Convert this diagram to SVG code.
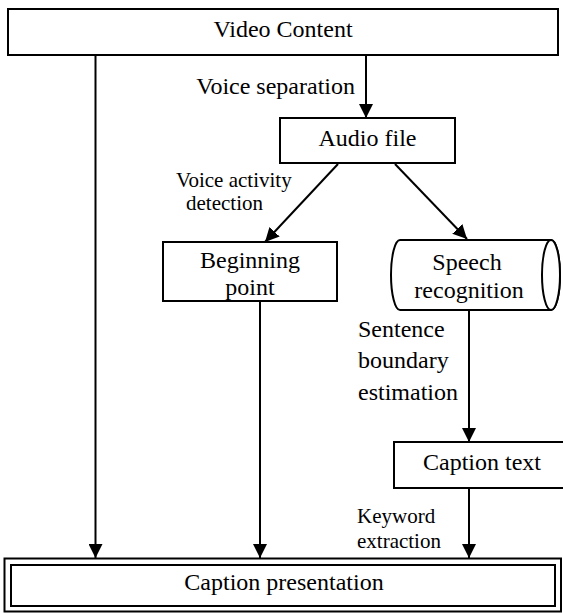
<svg xmlns="http://www.w3.org/2000/svg" width="563" height="613" viewBox="0 0 563 613">
  <style>
    .box { fill: #ffffff; stroke: #000000; stroke-width: 2; }
    .edge { stroke: #000000; stroke-width: 2; fill: none; }
    text { font-family: 'Liberation Serif', 'DejaVu Serif', serif; fill: #000000; }
    .t { font-size: 24px; }
    .s { font-size: 21px; }
    .c { text-anchor: middle; }
  </style>
  <defs>
    <marker id="arrow" viewBox="0 0 14 14" markerWidth="14" markerHeight="14" refX="14" refY="7" orient="auto" markerUnits="userSpaceOnUse">
      <path d="M0,0 L14,7 L0,14 z" fill="#000000"/>
    </marker>
  </defs>
  <rect width="563" height="613" fill="#ffffff"/>

  <!-- connectors -->
  <g id="connectors">
    <line class="edge" x1="95.5" y1="55" x2="95.5" y2="558" marker-end="url(#arrow)"/>
    <line class="edge" x1="366" y1="55" x2="366" y2="118" marker-end="url(#arrow)"/>
    <line class="edge" x1="338" y1="164" x2="265" y2="242" marker-end="url(#arrow)"/>
    <line class="edge" x1="395" y1="164" x2="467" y2="239" marker-end="url(#arrow)"/>
    <line class="edge" x1="260" y1="301" x2="260" y2="558" marker-end="url(#arrow)"/>
    <line class="edge" x1="469" y1="310" x2="469" y2="442" marker-end="url(#arrow)"/>
    <line class="edge" x1="469" y1="488" x2="469" y2="558" marker-end="url(#arrow)"/>
    <text class="t" x="355" y="94" text-anchor="end" font-family="Liberation Serif, serif">Voice separation</text>
    <text class="s" x="176" y="187" font-family="Liberation Serif, serif">Voice activity</text>
    <text class="s" x="186" y="210" font-family="Liberation Serif, serif">detection</text>
    <text class="t" x="358" y="337" font-family="Liberation Serif, serif">Sentence</text>
    <text class="t" x="358" y="368" font-family="Liberation Serif, serif">boundary</text>
    <text class="t" x="358" y="400" font-family="Liberation Serif, serif">estimation</text>
    <text class="s" x="357" y="523" font-family="Liberation Serif, serif">Keyword</text>
    <text class="s" x="357" y="548" font-family="Liberation Serif, serif">extraction</text>
  </g>

  <g id="video-content">
    <rect class="box" x="8" y="9" width="550" height="46"/>
    <text class="t c" x="283" y="37" font-family="Liberation Serif, serif">Video Content</text>
  </g>

  <g id="audio-file">
    <rect class="box" x="280" y="118" width="175" height="45"/>
    <text class="t c" x="367.5" y="146" font-family="Liberation Serif, serif">Audio file</text>
  </g>

  <g id="beginning-point">
    <rect class="box" x="163" y="242" width="174" height="59"/>
    <text class="t c" x="250" y="268" font-family="Liberation Serif, serif">Beginning</text>
    <text class="t c" x="250" y="295" font-family="Liberation Serif, serif">point</text>
  </g>

  <g id="speech-recognition">
    <path class="box" d="M400,240 L551,240 A9,35 0 0 1 551,310 L400,310 A9,35 0 0 1 400,240 Z"/>
    <ellipse class="box" cx="551" cy="275" rx="9" ry="35"/>
    <text class="t c" x="467" y="270" font-family="Liberation Serif, serif">Speech</text>
    <text class="t c" x="469" y="298" font-family="Liberation Serif, serif">recognition</text>
  </g>

  <g id="caption-text">
    <rect class="box" x="394" y="442" width="180" height="46"/>
    <text class="t" x="423" y="470" font-family="Liberation Serif, serif">Caption text</text>
  </g>

  <g id="caption-presentation">
    <rect class="box" x="4.5" y="558.5" width="556.5" height="53"/>
    <rect class="box" x="11" y="565" width="544" height="41"/>
    <text class="t c" x="284" y="590" font-family="Liberation Serif, serif">Caption presentation</text>
  </g>
</svg>
